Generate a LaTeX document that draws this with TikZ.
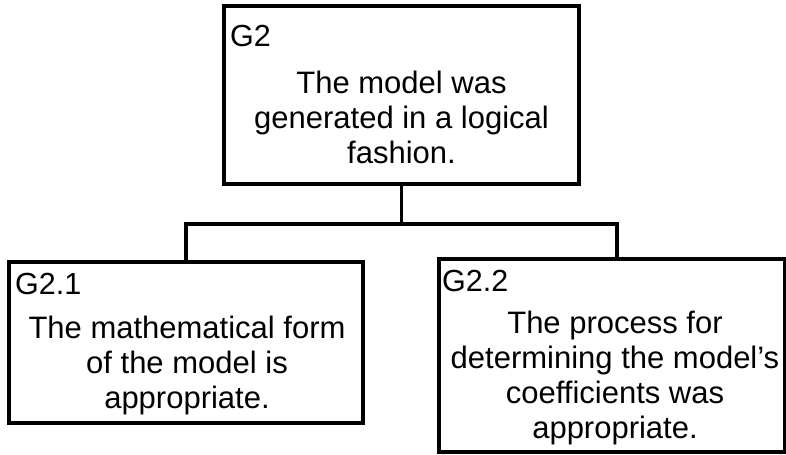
\documentclass[tikz,border=0pt]{standalone}
\usepackage{fontspec}
\setmainfont{Liberation Sans}
\begin{document}
\begin{tikzpicture}[x=1bp,y=-1bp,
  goalbox/.style={draw=black,line width=3.5bp,rectangle,inner sep=0pt},
  goalid/.style={anchor=base west,inner sep=0pt,font=\fontsize{30.5bp}{35bp}\selectfont},
  goaltext/.style={anchor=base,inner sep=0pt,align=center,
    font=\fontsize{31bp}{35bp}\selectfont},
  link/.style={draw=black,line width=3.5bp}]
  \useasboundingbox (0,0) rectangle (786,455);
  \fill[white] (0,0) rectangle (786,455);

  % goal boxes
  \node[goalbox,minimum width=355bp,minimum height=178bp] (g2)  at (401.5,95) {};
  \node[goalbox,minimum width=354bp,minimum height=161bp] (g21) at (186,342.5) {};
  \node[goalbox,minimum width=346bp,minimum height=193bp] (g22) at (612,355.5) {};

  % identifiers
  \node[goalid] (g2id)  at (230,47)  {G2};
  \node[goalid] (g21id) at (15,295)  {G2.1};
  \node[goalid] (g22id) at (442,292) {G2.2};

  % statements, placed by the baseline of their last line
  \node[goaltext] (g2txt)  at (401.5,164) {The model was\\generated in a logical\\fashion.};
  \node[goaltext] (g21txt) at (187,408)   {The mathematical form\\of the model is\\appropriate.};
  \node[goaltext] (g22txt) at (615,438)   {The process for\\determining the model’s\\coefficients was\\appropriate.};

  % decomposition links
  \coordinate (dropL) at (186,224);
  \coordinate (dropR) at (617,224);
  \draw[link] (g2.south) -- (g2.south |- dropL);
  \draw[link,line join=miter] (g21.north) -- (dropL) -- (dropR) -- (dropR |- g22.north);
\end{tikzpicture}
\end{document}
